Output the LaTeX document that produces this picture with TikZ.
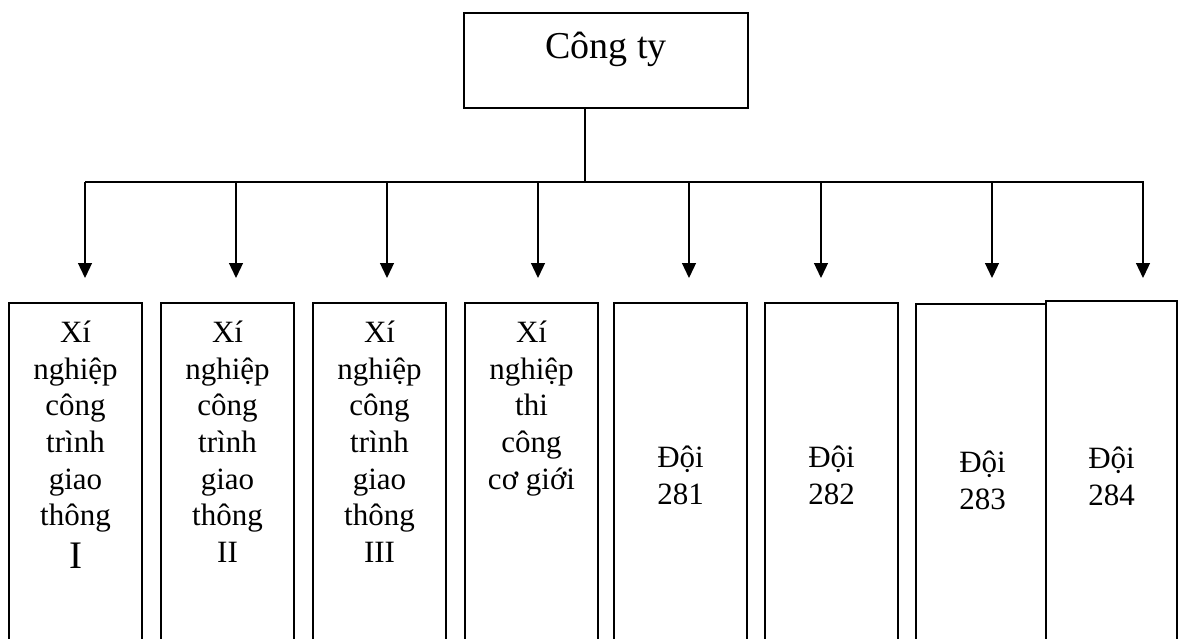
\documentclass[tikz,border=0pt]{standalone}
\usepackage{fontspec}
\setmainfont{Liberation Serif}
\usetikzlibrary{arrows.meta, positioning}

\begin{document}
\begin{tikzpicture}[
  x = 1pt, y = -1pt,
  > = {Triangle[length=15pt, width=14pt]},
  node distance = 18pt,
  line width = 1.3pt
  ]

  \tikzstyle{unit}=[
  draw = black,
  line width = 1.8pt,
  fill = white,
  anchor = north,
  minimum width = 133pt,
  minimum height = 360pt,
  inner sep = 0pt
  ]

  \tikzstyle{txt}=[
  align = center,
  inner sep = 0pt,
  font = \fontsize{31}{36.6}\selectfont
  ]

  \useasboundingbox (0,0) rectangle (1178,639);
  \clip (0,0) rectangle (1178,639);

  % top of the chart
  \node[unit, minimum width=284pt, minimum height=95pt, line width=1.6pt] (company) at (606,12) {};
  \node[txt, font=\fontsize{38}{44}\selectfont, below=19.5pt of company.north] (company-t) {Công ty};

  \coordinate (hub) at (585,182);
  \coordinate (bar-l) at (85,182);
  \coordinate (bar-r) at (1144,182);

  \draw (company.south -| hub) -- (hub);
  \draw[line width=1.7pt] (bar-l) -- (bar-r);

  % arrow ends
  \coordinate (tip1) at (85,278);
  \coordinate (tip2) at (236,278);
  \coordinate (tip3) at (387,278);
  \coordinate (tip4) at (538,278);
  \coordinate (tip5) at (689,278);
  \coordinate (tip6) at (821,278);
  \coordinate (tip7) at (992,278);
  \coordinate (tip8) at (1143,278);

  \draw[->] (tip1 |- hub) -- (tip1);
  \draw[->] (tip2 |- hub) -- (tip2);
  \draw[->] (tip3 |- hub) -- (tip3);
  \draw[->] (tip4 |- hub) -- (tip4);
  \draw[->] (tip5 |- hub) -- (tip5);
  \draw[->] (tip6 |- hub) -- (tip6);
  \draw[->] (tip7 |- hub) -- (tip7);
  \draw[->] (tip8 |- hub) -- (tip8);

  % units
  \node[unit] (xn1) at (75.5,302) {};
  \node[unit] (xn2) at (227.5,302) {};
  \node[unit] (xn3) at (379.5,302) {};
  \node[unit] (xn4) at (531.5,302) {};
  \node[unit] (d281) at (680.5,302) {};
  \node[unit] (d282) at (831.5,302) {};
  \node[unit] (d283) at (982.5,303) {};
  \node[unit, minimum width=131pt] (d284) at (1111.5,300) {};

  \node[txt, below=18.5pt of xn1.north] (xn1-t) {Xí\\nghiệp\\công\\trình\\giao\\thông\\[6pt]{\fontsize{39}{37}\selectfont I}};
  \node[txt, below=18.5pt of xn2.north] (xn2-t) {Xí\\nghiệp\\công\\trình\\giao\\thông\\II};
  \node[txt, below=18.5pt of xn3.north] (xn3-t) {Xí\\nghiệp\\công\\trình\\giao\\thông\\III};
  \node[txt, below=18.5pt of xn4.north] (xn4-t) {Xí\\nghiệp\\thi\\công\\cơ giới};

  \node[txt, below=143.5pt of d281.north] (d281-t) {Đội\\281};
  \node[txt, below=143.5pt of d282.north] (d282-t) {Đội\\282};
  \node[txt, below=147.5pt of d283.north] (d283-t) {Đội\\283};
  \node[txt, below=146.5pt of d284.north] (d284-t) {Đội\\284};

\end{tikzpicture}
\end{document}
